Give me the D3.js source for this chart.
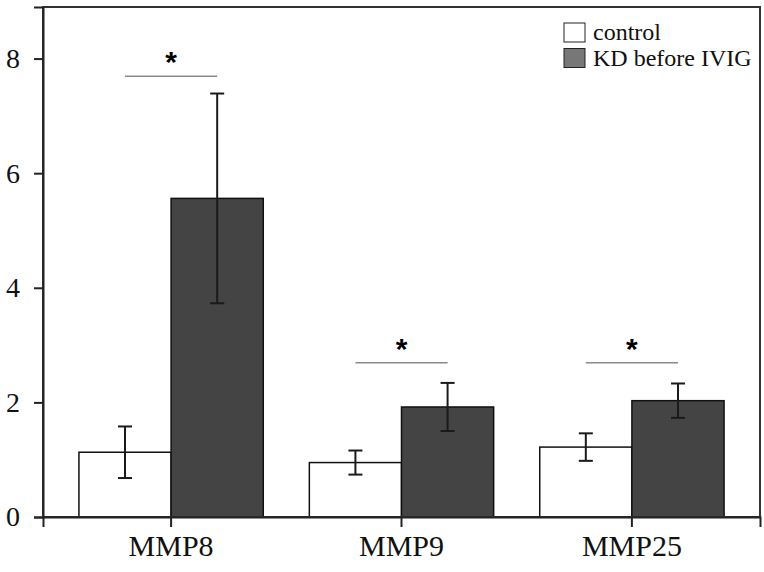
<!DOCTYPE html>
<html><head><meta charset="utf-8">
<script src="https://d3js.org/d3.v7.min.js"></script>
<style>body{margin:0;background:#fff}svg{display:block}
.serif{font-family:"Liberation Serif","Times New Roman",Times,serif}
</style>
</head><body><svg id="c" width="764" height="572"></svg>
<script>
const categories = ["MMP8", "MMP9", "MMP25"];
const seriesNames = ["control", "KD before IVIG"];
const controlMean = [1.13, 0.95, 1.22];
const controlErr = [0.45, 0.21, 0.24];
const kdMean = [5.56, 1.92, 2.03];
const kdErr = [1.83, 0.42, 0.30];
const sigLevel = [7.69, 2.69, 2.69];
const sigLabel = ["*", "*", "*"];
const yTicks = [0, 2, 4, 6, 8];

const svg = d3.select("#c");
const m = {l: 43, r: 4, t: 7, b: 55};
const W = 764, H = 572;
const x0 = d3.scaleBand().domain(categories).range([m.l, W - m.r]).paddingInner(0.2).paddingOuter(0.156);
const x1 = d3.scaleBand().domain(seriesNames).range([0, x0.bandwidth()]);
const y = d3.scaleLinear().domain([0, 8.9]).range([H - m.b, m.t]);
const fills = {"control": "#ffffff", "KD before IVIG": "#444444"};

const rows = categories.map((c, i) => ({c, vals: [
  {s: seriesNames[0], v: controlMean[i], e: controlErr[i]},
  {s: seriesNames[1], v: kdMean[i], e: kdErr[i]}]}));

const g = svg.append("g");
rows.forEach(r => {
  r.vals.forEach(d => {
    const bx = x0(r.c) + x1(d.s);
    g.append("rect").attr("x", bx).attr("y", y(d.v)).attr("width", x1.bandwidth())
      .attr("height", y(0) - y(d.v)).attr("fill", fills[d.s]).attr("stroke", "#111").attr("stroke-width", 1.5);
  });
});
rows.forEach(r => {
  r.vals.forEach(d => {
    const cx = x0(r.c) + x1(d.s) + x1.bandwidth() / 2;
    const eg = g.append("g").attr("stroke", "#1a1a1a").attr("stroke-width", 2);
    eg.append("line").attr("x1", cx).attr("x2", cx).attr("y1", y(d.v + d.e)).attr("y2", y(d.v - d.e));
    eg.append("line").attr("x1", cx - 7).attr("x2", cx + 7).attr("y1", y(d.v + d.e)).attr("y2", y(d.v + d.e));
    eg.append("line").attr("x1", cx - 7).attr("x2", cx + 7).attr("y1", y(d.v - d.e)).attr("y2", y(d.v - d.e));
  });
});
// significance
categories.forEach((c, i) => {
  const a = x0(c) + x1(seriesNames[0]) + x1.bandwidth() / 2;
  const b = x0(c) + x1(seriesNames[1]) + x1.bandwidth() / 2;
  g.append("line").attr("x1", a).attr("x2", b).attr("y1", y(sigLevel[i])).attr("y2", y(sigLevel[i]))
    .attr("stroke", "#8a8a8a").attr("stroke-width", 1.5);
  g.append("text").attr("x", (a + b) / 2).attr("y", y(sigLevel[i]) - 4).attr("text-anchor", "middle")
    .style("font-family", "'Liberation Sans', Arial, sans-serif").attr("font-weight", "bold").attr("font-size", 30)
    .text(sigLabel[i]);
});
// frame
svg.append("rect").attr("x", m.l).attr("y", m.t).attr("width", W - m.r - m.l).attr("height", y(0) - m.t)
  .attr("fill", "none").attr("stroke", "#333").attr("stroke-width", 2);
// axes
const yAx = svg.append("g").attr("transform", `translate(${m.l},0)`)
  .call(d3.axisLeft(y).tickValues(yTicks).tickSize(9).tickPadding(14).tickFormat(d3.format("d")));
yAx.attr("font-family", null);
yAx.select(".domain").attr("stroke", "#222").attr("stroke-width", 2);
yAx.selectAll(".tick line").attr("stroke", "#222").attr("stroke-width", 2);
yAx.selectAll("text").attr("class", "serif").style("font-size", "28px").attr("fill", "#111");
const xAx = svg.append("g").attr("transform", `translate(0,${y(0)})`)
  .call(d3.axisBottom(x0).tickSize(10).tickPadding(8));
xAx.attr("font-family", null);
xAx.select(".domain").attr("stroke", "#222").attr("stroke-width", 2);
xAx.selectAll(".tick line").attr("stroke", "#222").attr("stroke-width", 2);
xAx.selectAll("text").attr("class", "serif").style("font-size", "30px").attr("fill", "#111");
// legend
const legFill = {"control": "#ffffff", "KD before IVIG": "#777777"};
seriesNames.forEach((s, i) => {
  const ly = 23 + i * 25.5;
  svg.append("rect").attr("x", 564).attr("y", ly).attr("width", 21).attr("height", 19)
    .attr("fill", legFill[s]).attr("stroke", "#222").attr("stroke-width", 1);
  svg.append("text").attr("class", "serif").attr("x", 593).attr("y", ly + 17)
    .style("font-size", "24px").attr("fill", "#111").text(s);
});
</script></body></html>
